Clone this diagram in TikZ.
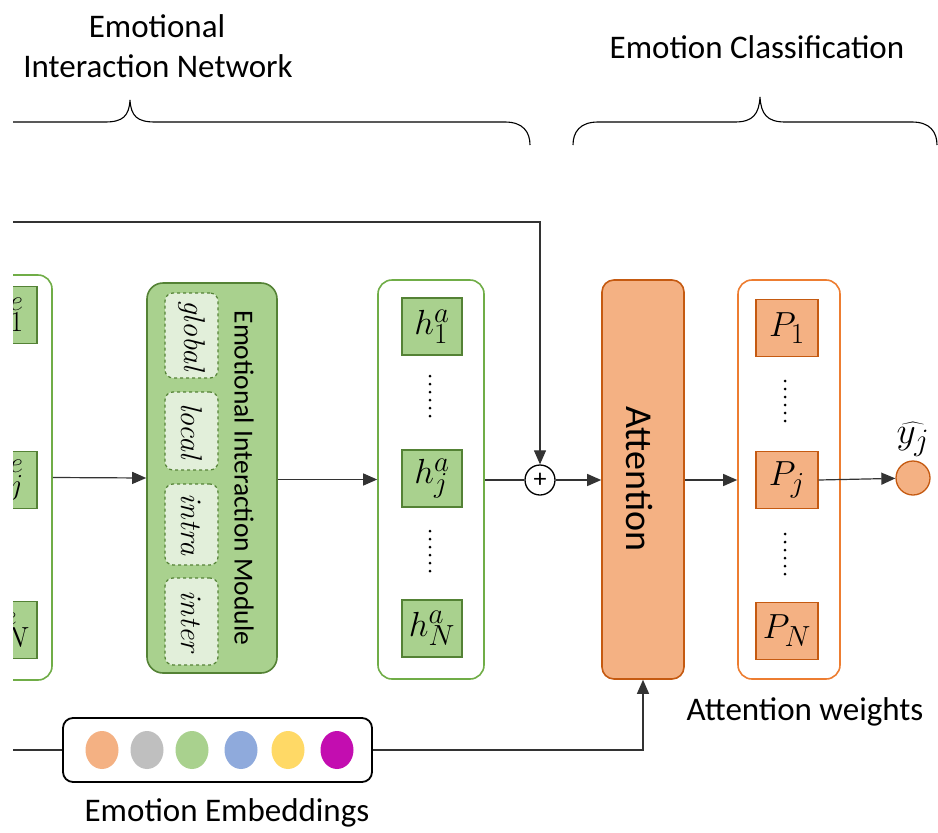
\documentclass[tikz,border=0pt]{standalone}
\usepackage{fontspec}
\setsansfont{Carlito}
\usetikzlibrary{arrows.meta,calc,shapes.geometric}
\definecolor{gfill}{HTML}{A9D18E}
\definecolor{gdark}{HTML}{548235}
\definecolor{gline}{HTML}{70AD47}
\definecolor{glight}{HTML}{E2EFDA}
\definecolor{ofill}{HTML}{F4B183}
\definecolor{odark}{HTML}{C55A11}
\definecolor{oline}{HTML}{ED7D31}
\definecolor{egrey}{HTML}{BFBFBF}
\definecolor{eblue}{HTML}{8FAADC}
\definecolor{eyellow}{HTML}{FFD966}
\definecolor{emag}{HTML}{C30DB0}
\definecolor{wire}{HTML}{333333}
% math set at the largest design size, then enlarged
\newcommand{\mscl}[2][1.4]{\scalebox{#1}{$#2$}}
\tikzset{
  lbl/.style={font=\sffamily\fontsize{33}{38}\selectfont, text=black},
  gcol/.style={draw=gline, line width=1.6pt, fill=white, rounded corners=14pt, inner sep=0pt},
  ocol/.style={draw=oline, line width=1.6pt, fill=white, rounded corners=14pt, inner sep=0pt},
  gcell/.style={draw=gdark, line width=1.3pt, fill=gfill, minimum width=60pt, minimum height=57pt, inner sep=0pt, font=\fontsize{24.88}{30}\selectfont},
  ocell/.style={draw=odark, line width=1.3pt, fill=ofill, minimum width=62pt, minimum height=57pt, inner sep=0pt, font=\fontsize{24.88}{30}\selectfont},
  subbox/.style={draw=gdark, dashed, line width=1.2pt, fill=glight, rounded corners=8pt, minimum width=53pt, inner sep=0pt, font=\fontsize{30}{34}\selectfont\itshape},
  conn/.style={draw=wire, line width=1.2pt},
  arr/.style={conn, -{Triangle[length=14pt,width=12pt]}},
  edot/.style={ellipse, minimum width=33pt, minimum height=38pt, inner sep=0pt},
  vdts/.style={line width=3pt, dash pattern=on 0pt off 8pt, line cap=round},
  brace/.style={draw=black, line width=1.1pt},
}
\begin{document}
\begin{tikzpicture}[x=1pt, y=-1pt]
\useasboundingbox (0,0) rectangle (938,833);
\clip (13,0) rectangle (938,833);

% section headings and braces
\node[lbl] (hEIN1) at (157,26) {Emotional};
\node[lbl] (hEIN2) at (158,66) {Interaction Network};
\node[lbl] (hEC) at (757,47) {Emotion Classification};
\draw[brace] (0,122) -- (105,122) .. controls (123,122) and (129,116) .. (130,100)
  .. controls (131,116) and (137,122) .. (155,122) -- (505,122)
  .. controls (523,122) and (530,132) .. (530,145);
\draw[brace] (573,145) .. controls (573,132) and (580,122) .. (598,122) -- (735,122)
  .. controls (753,122) and (759,114) .. (760,97)
  .. controls (761,114) and (767,122) .. (785,122) -- (912,122)
  .. controls (930,122) and (937,132) .. (937,145);

% utterance column on the left (partly outside the frame)
\node[gcol, minimum width=112pt, minimum height=405pt] (ucol) at (-4,477.5) {};
\node[gcell] (u1) at (7,315) {\mscl{h^{e}_{1}}};
\node[gcell] (uj) at (7,480) {\mscl{h^{e}_{j}}};
\node[gcell] (uN) at (7,630) {\mscl{h^{e}_{N}}};

% emotional interaction module
\node[draw=gdark, line width=1.6pt, fill=gfill, rounded corners=16pt, minimum width=130pt, minimum height=390pt, inner sep=0pt] (eim) at (212,478) {};
\node[subbox, minimum height=85pt] (sg) at (191.5,335.5) {\rotatebox{-90}{global}};
\node[subbox, minimum height=78pt] (sl) at (191.5,431) {\rotatebox{-90}{local}};
\node[subbox, minimum height=81pt] (si) at (191.5,524.5) {\rotatebox{-90}{intra}};
\node[subbox, minimum height=87pt] (sn) at (191.5,621.5) {\rotatebox{-90}{inter}};
\node[font=\sffamily\fontsize{27.5}{32}\selectfont, rotate=-90] (eimt) at (244,478) {Emotional Interaction Module};

% interaction outputs
\node[gcol, minimum width=106pt, minimum height=399pt] (hcol) at (431,479.5) {};
\node[gcell] (h1) at (432,326.5) {\mscl{h^{a}_{1}}};
\node[gcell] (hj) at (432,478.5) {\mscl{h^{a}_{j}}};
\node[gcell] (hN) at (432,628.5) {\mscl{h^{a}_{N}}};
\draw[vdts] (430,376) -- (430,416);
\draw[vdts] (430,531) -- (430,571);

% residual sum
\node[circle, draw=black, line width=1.3pt, fill=white, minimum size=30pt, inner sep=0pt, font=\sffamily\fontsize{26}{26}\selectfont] (plus) at (540,480) {+};

% attention block
\node[draw=odark, line width=1.6pt, fill=ofill, rounded corners=12pt, minimum width=82pt, minimum height=399pt, inner sep=0pt] (att) at (643,479.5) {};
\node[font=\sffamily\fontsize{38}{42}\selectfont, rotate=-90] (attt) at (639,479) {Attention};

% attention weights column
\node[ocol, minimum width=102pt, minimum height=399pt] (pcol) at (789,479.5) {};
\node[ocell] (p1) at (787,328) {\mscl{P_1}};
\node[ocell] (pj) at (787,480) {\mscl{P_j}};
\node[ocell] (pN) at (787,631) {\mscl{P_N}};
\draw[vdts] (785,381) -- (785,421);
\draw[vdts] (785,534) -- (785,574);
\node[lbl] (awl) at (805,712) {Attention weights};

% prediction
\node[circle, draw=odark, line width=1.3pt, fill=ofill, minimum size=34pt, inner sep=0pt] (yhat) at (913,478) {};
\node[font=\fontsize{24.88}{30}\selectfont, anchor=south, inner sep=0pt] (yl) at (913,457) {\mscl[1.5]{\widehat{y_j}}};

% emotion embeddings
\node[draw=black, line width=1.8pt, fill=white, rounded corners=10pt, minimum width=309pt, minimum height=64pt, inner sep=0pt] (emb) at (217.5,750) {};
\node[edot, fill=ofill] (e1) at (102,750) {};
\node[edot, fill=egrey] (e2) at (147,750) {};
\node[edot, fill=gfill] (e3) at (192,750) {};
\node[edot, fill=eblue] (e4) at (241,750) {};
\node[edot, fill=eyellow] (e5) at (288,750) {};
\node[edot, fill=emag] (e6) at (337,750) {};
\node[lbl] (embt) at (227,813) {Emotion Embeddings};

% connectors
\coordinate (topin) at (0,222);
\coordinate (embin) at (0,750);
\draw[arr] (topin) -| (plus);
\draw[arr] (ucol.east) -- (eim.west);
\draw[arr] (eim.east |- hcol.west) -- (hcol.west);
\draw[conn] (hcol.east |- plus) -- (plus);
\draw[arr] (plus) -- (att.west |- plus);
\draw[arr] (att.east |- pj) -- (pcol.west |- pj);
\draw[arr] (pj.east) -- (yhat);
\draw[conn] (embin) -- (emb.west);
\draw[arr] (emb.east) -| (att.south);
\end{tikzpicture}
\end{document}
